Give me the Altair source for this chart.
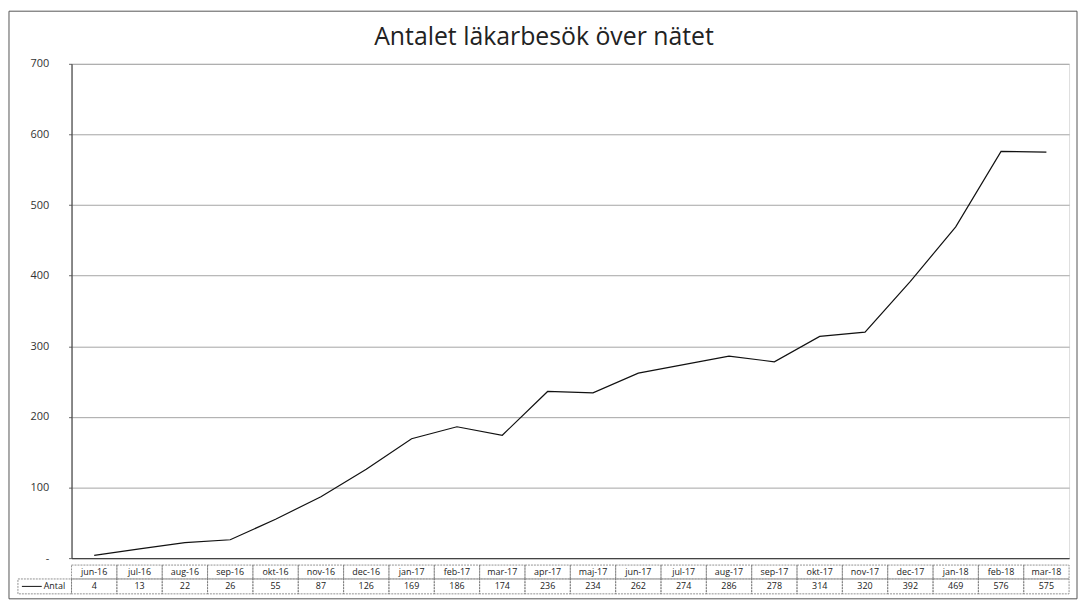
import altair as alt
import pandas as pd

months = ["jun-16", "jul-16", "aug-16", "sep-16", "okt-16", "nov-16", "dec-16",
          "jan-17", "feb-17", "mar-17", "apr-17", "maj-17", "jun-17", "jul-17",
          "aug-17", "sep-17", "okt-17", "nov-17", "dec-17", "jan-18", "feb-18", "mar-18"]
antal = [4, 13, 22, 26, 55, 87, 126, 169, 186, 174, 236, 234, 262, 274, 286, 278,
         314, 320, 392, 469, 576, 575]
series_name = "Antal"
title_text = "Antalet läkarbesök över nätet"

df = pd.DataFrame({"month": months, "antal": antal})

W, H = 1005, 498
FONT = "Open Sans"

x_enc = alt.X("month:N", sort=months, scale=alt.Scale(paddingInner=0, paddingOuter=0),
              axis=alt.Axis(labels=False, ticks=False, title=None, domainColor="#444",
                            domainWidth=1.2))
y_scale = alt.Scale(domain=[0, 700])

base = alt.Chart(df)

line = base.mark_line(color="#111", strokeWidth=1.2).encode(
    x=x_enc,
    y=alt.Y("antal:Q", scale=y_scale,
            axis=alt.Axis(values=[0, 100, 200, 300, 400, 500, 600, 700], title=None,
                          labelExpr="datum.value == 0 ? '-\u00a0\u00a0\u00a0' : datum.label",
                          labelFont=FONT, labelFontSize=11, labelColor="#333",
                          labelPadding=20, tickSize=3, tickColor="#666",
                          grid=True, gridColor="#9a9a9a", gridWidth=0.9,
                          domainColor="#444", domainWidth=1.2)),
)

cell_style = dict(fill=None, stroke="#777", strokeWidth=0.8, strokeDash=[2, 1])

header_cells = base.mark_rect(**cell_style).encode(
    x=alt.X("month:N", sort=months), y=alt.value(H + 7), y2=alt.value(H + 21))
value_cells = base.mark_rect(**cell_style).encode(
    x=alt.X("month:N", sort=months), y=alt.value(H + 21), y2=alt.value(H + 36))

header_text = base.mark_text(font=FONT, fontSize=9, color="#222", baseline="middle").encode(
    x=alt.X("month:N", sort=months), y=alt.value(H + 14), text="month:N")
value_text = base.mark_text(font=FONT, fontSize=9, color="#222", baseline="middle").encode(
    x=alt.X("month:N", sort=months), y=alt.value(H + 28.5), text="antal:Q")

legend_df = pd.DataFrame({"name": [series_name], "title": [title_text]})
lbase = alt.Chart(legend_df)
legend_cell = lbase.mark_rect(**cell_style).encode(
    x=alt.value(-54), x2=alt.value(0), y=alt.value(H + 21), y2=alt.value(H + 36))
legend_line = lbase.mark_rule(color="#111", strokeWidth=1).encode(
    x=alt.value(-50), x2=alt.value(-30), y=alt.value(H + 28.5))
legend_text = lbase.mark_text(font=FONT, fontSize=9, color="#222", align="left",
                              baseline="middle").encode(
    x=alt.value(-28), y=alt.value(H + 28.5), text="name:N")

title_mark = lbase.mark_text(font=FONT, fontSize=25, color="#222", align="center",
                             baseline="alphabetic").encode(
    x=alt.value(476), y=alt.value(-19), text="title:N")

border = lbase.mark_rect(fill=None, stroke="#555", strokeWidth=1).encode(
    x=alt.value(-63), x2=alt.value(W + 8), y=alt.value(-53), y2=alt.value(H + 41))

chart = alt.layer(
    border, line, header_cells, value_cells, header_text, value_text,
    legend_cell, legend_line, legend_text, title_mark,
).properties(
    width=W, height=H,
    autosize=alt.AutoSizeParams(type="none"),
    padding={"left": 64, "top": 54, "right": 10, "bottom": 44},
).configure_view(stroke=None).configure(background="white")

chart.save("out.html", embed_options={"renderer": "svg", "actions": False})
